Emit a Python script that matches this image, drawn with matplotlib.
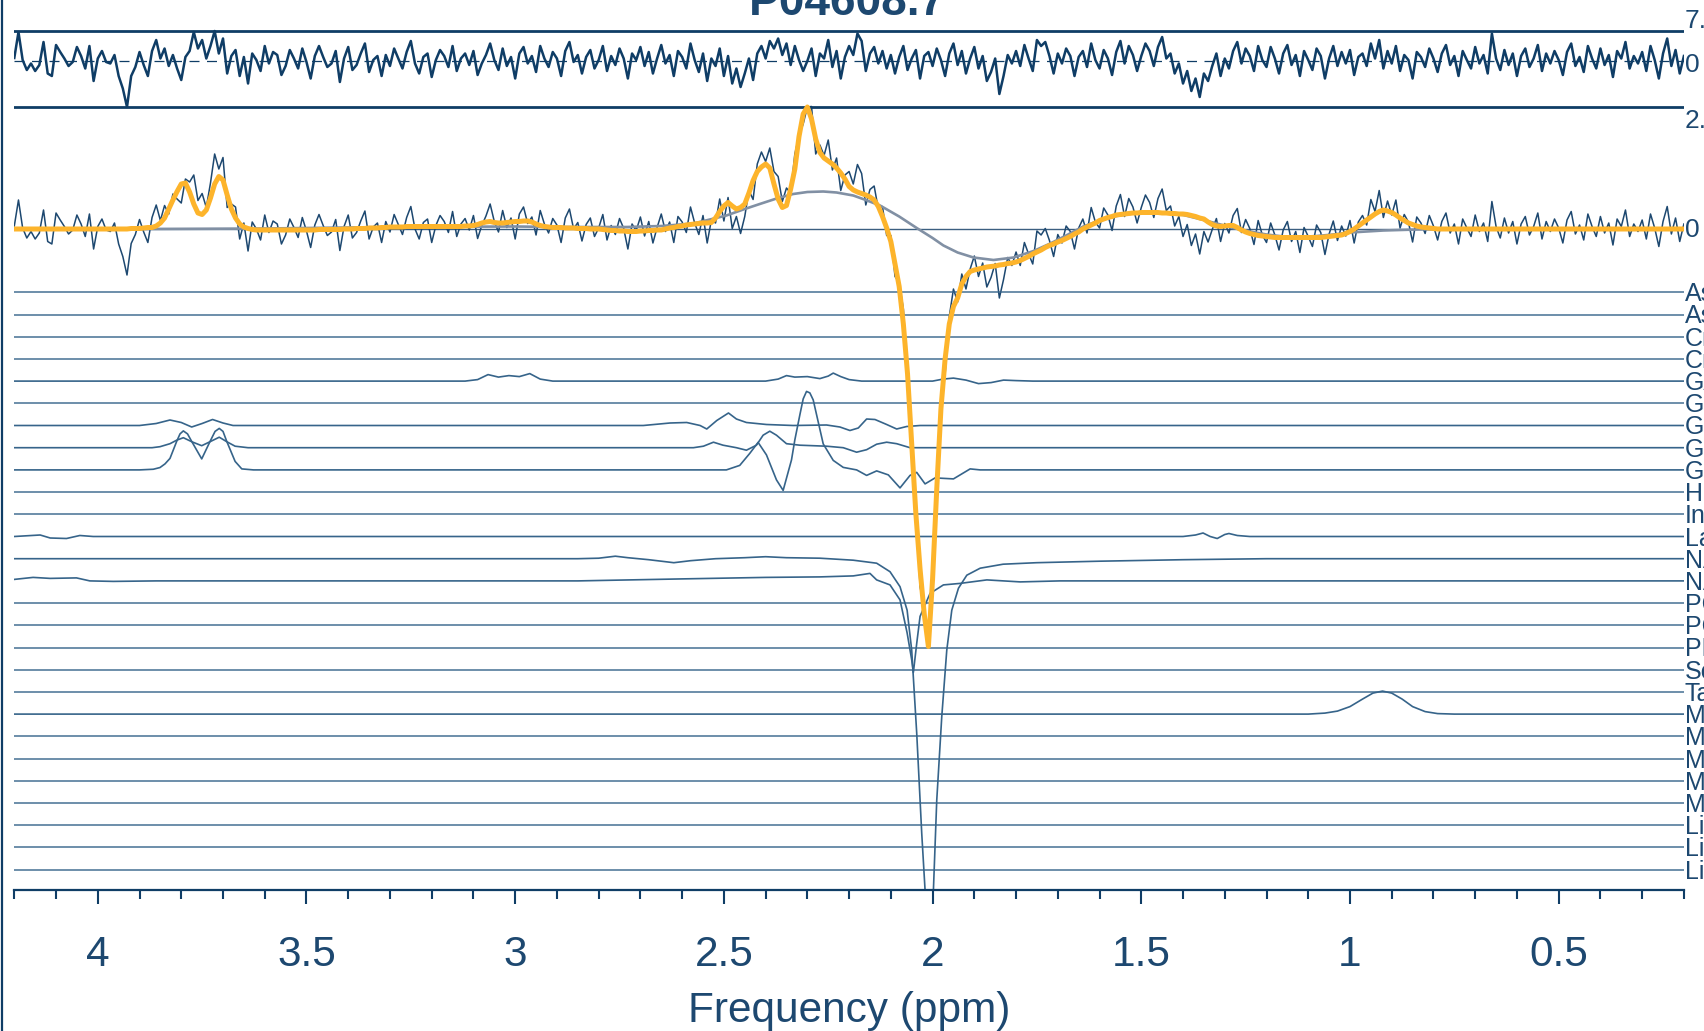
import numpy as np
import matplotlib
matplotlib.use("Agg")
import matplotlib.pyplot as plt
from matplotlib.lines import Line2D
from matplotlib.ticker import FixedLocator, FuncFormatter

plt.rcParams['font.family'] = ['Liberation Sans', 'DejaVu Sans']

# ---------------- data (amplitudes in arbitrary units) ----------------
ppm = np.linspace(4.2, 0.2, 401)   # 0.01 ppm steps

fit = ([0.0] * 28 + [0.01, 0.01,
        0.01, 0.02, 0.03, 0.03, 0.06, 0.12, 0.22, 0.40, 0.58, 0.75,
        0.90, 0.92, 0.74, 0.50, 0.32, 0.29, 0.38, 0.62, 0.90, 1.05,
        0.98, 0.68, 0.40, 0.22, 0.10, 0.04, 0.01, -0.01, -0.02, -0.02]
       + [-0.02] * 13 + [-0.01] * 6 + [0.0,
        0.0, 0.0, 0.01, 0.01, 0.01, 0.02, 0.02, 0.02, 0.03, 0.03,
        0.04, 0.04, 0.04, 0.04, 0.05, 0.05, 0.05, 0.05, 0.05, 0.05,
        0.05, 0.05, 0.05, 0.05, 0.05, 0.05, 0.05, 0.05, 0.06, 0.06,
        0.07, 0.09, 0.12, 0.14, 0.15, 0.13, 0.12, 0.12, 0.13, 0.14,
        0.15, 0.15, 0.16, 0.16, 0.14, 0.10, 0.07, 0.05, 0.04, 0.03,
        0.03, 0.03, 0.02, 0.02, 0.02, 0.01, 0.01, 0.01, 0.0, 0.0,
        0.0, -0.01, -0.02, -0.03, -0.03, -0.04, -0.04, -0.05, -0.05, -0.05,
        -0.04, -0.04, -0.03, -0.03, -0.02, -0.02, 0.0, 0.02, 0.03, 0.05,
        0.06, 0.08, 0.09, 0.10, 0.11, 0.12, 0.12, 0.13, 0.22, 0.35,
        0.46, 0.53, 0.46, 0.40, 0.43, 0.50, 0.72, 0.97, 1.15, 1.24,
        1.30, 1.22, 0.90, 0.60, 0.43, 0.47, 0.80, 1.20, 1.85, 2.30,
        2.44, 2.20, 1.80, 1.53, 1.42, 1.36, 1.30, 1.22, 1.12, 1.00,
        0.85, 0.78, 0.74, 0.71, 0.68, 0.64, 0.58, 0.45, 0.25, 0.02,
        -0.25, -0.70, -1.15, -1.90, -2.90, -4.30, -5.70, -6.80, -7.70, -8.35,
        -7.00, -5.20, -3.60, -2.60, -1.90, -1.55, -1.38, -1.10, -0.95, -0.85,
        -0.82, -0.80, -0.78, -0.76, -0.75, -0.74, -0.72, -0.71, -0.69, -0.68,
        -0.66, -0.63, -0.59, -0.55, -0.50, -0.46, -0.42, -0.37, -0.33, -0.30,
        -0.26, -0.23, -0.19, -0.15, -0.10, -0.06, 0.00, 0.04, 0.08, 0.12,
        0.17, 0.20, 0.23, 0.25, 0.28, 0.29, 0.30, 0.31, 0.32, 0.32,
        0.33, 0.33, 0.33, 0.33, 0.33, 0.32, 0.32, 0.31, 0.31, 0.30,
        0.30, 0.29, 0.27, 0.25, 0.22, 0.20, 0.14, 0.09, 0.06, 0.05,
        0.06, 0.07, 0.07, 0.03, -0.02, -0.06, -0.09, -0.11, -0.13, -0.14,
        -0.15, -0.16, -0.17, -0.17, -0.17, -0.17, -0.17, -0.17, -0.17, -0.17,
        -0.17, -0.17, -0.17, -0.17, -0.16, -0.15, -0.14, -0.13, -0.12, -0.09,
        -0.05, 0.0, 0.06, 0.12, 0.18, 0.24, 0.30, 0.35, 0.38, 0.36,
        0.33, 0.28, 0.22, 0.17, 0.12, 0.09, 0.06, 0.04, 0.03, 0.02,
        0.01] + [0.0] * 60)

residual = [
    0.06, 0.58, 0.02, -0.18, -0.05, -0.20, -0.08, 0.38, -0.25, -0.30,
    0.32, 0.18, 0.05, -0.10, -0.02, 0.28, 0.10, -0.15, 0.30, -0.40,
    0.05, 0.20, -0.02, -0.05, 0.12, -0.30, -0.55, -0.92, -0.30, -0.12,
    0.18, -0.08, -0.30, 0.20, 0.42, 0.05, 0.25, -0.10, 0.12, -0.15,
    -0.38, 0.08, 0.20, 0.58, 0.25, 0.42, 0.05, 0.30, 0.60, 0.15,
    0.45, -0.25, 0.10, 0.22, -0.30, 0.08, -0.45, 0.15, 0.02, -0.20,
    0.30, -0.05, 0.18, 0.12, -0.28, -0.10, 0.22, 0.05, -0.15, 0.25,
    -0.02, -0.35, 0.10, 0.30, 0.08, -0.12, -0.05, 0.20, -0.42, 0.05,
    0.28, -0.18, -0.08, 0.15, 0.35, -0.22, 0.02, 0.10, -0.30, 0.12,
    -0.10, 0.25, 0.05, -0.15, 0.18, 0.40, -0.05, -0.25, 0.08, 0.15,
    -0.32, 0.02, 0.22, 0.10, -0.12, 0.30, -0.20, 0.05, 0.15, -0.08,
    0.20, -0.28, -0.05, 0.12, 0.35, 0.02, -0.18, 0.25, -0.10, 0.08,
    -0.35, 0.15, 0.28, -0.05, 0.10, -0.22, 0.30, 0.05, -0.12, 0.18,
    0.05, -0.30, 0.20, 0.38, -0.02, 0.12, -0.25, 0.08, 0.22, -0.15,
    0.02, 0.30, -0.20, 0.10, -0.08, 0.25, 0.05, -0.35, 0.15, 0.02,
    0.28, -0.10, 0.18, -0.25, 0.05, 0.32, -0.05, 0.12, -0.30, 0.20,
    0.08, -0.15, 0.35, 0.02, -0.22, 0.15, -0.40, 0.05, -0.10, 0.25,
    -0.30, 0.10, -0.45, -0.15, -0.52, -0.25, 0.05, -0.38, 0.15, 0.30,
    0.05, 0.40, 0.25, 0.45, 0.12, 0.35, -0.08, 0.30, 0.02, -0.20,
    0.0, 0.25, -0.30, 0.15, 0.05, 0.42, -0.12, 0.20, -0.35, 0.08,
    0.30, 0.12, 0.55, 0.40, -0.20, 0.15, 0.28, -0.05, 0.20, -0.15,
    0.12, -0.25, 0.08, 0.30, -0.18, 0.05, 0.22, -0.35, 0.10, 0.18,
    -0.10, 0.25, 0.02, -0.30, 0.15, 0.35, -0.08, 0.20, -0.25, 0.05,
    0.28, -0.15, 0.10, -0.40, -0.22, 0.05, -0.66, -0.30, 0.12, -0.05,
    0.20, -0.10, 0.32, 0.05, -0.20, 0.42, 0.30, 0.38, 0.10, -0.25,
    0.15, -0.05, 0.25, 0.10, -0.30, 0.08, 0.20, -0.12, 0.35, 0.02,
    -0.15, 0.22, 0.05, -0.28, 0.18, 0.40, -0.05, 0.30, 0.12, -0.20,
    0.10, 0.35, 0.20, -0.10, 0.28, 0.48, 0.05, 0.15, -0.25, -0.05,
    -0.45, -0.20, -0.60, -0.35, -0.72, -0.25, -0.40, -0.10, 0.15, -0.30,
    0.05, -0.15, 0.20, 0.38, -0.05, 0.25, 0.10, -0.20, 0.30, 0.02,
    -0.12, 0.28, 0.05, -0.25, 0.15, 0.32, -0.08, 0.12, -0.30, 0.20,
    0.02, -0.18, 0.25, 0.10, -0.35, 0.05, 0.30, -0.10, 0.18, -0.05,
    0.22, -0.28, 0.08, 0.15, -0.10, 0.35, 0.05, 0.42, -0.15, 0.20,
    -0.05, 0.30, -0.20, 0.12, 0.02, -0.35, 0.18, 0.08, -0.12, 0.25,
    0.05, -0.22, 0.15, 0.32, -0.08, 0.10, -0.30, 0.20, 0.02, -0.15,
    0.28, -0.05, 0.12, -0.25, 0.55, 0.05, -0.18, 0.22, -0.08, 0.15,
    -0.30, 0.10, 0.25, -0.12, 0.05, 0.32, -0.20, 0.15, -0.05, 0.20,
    0.02, -0.28, 0.18, 0.35, -0.10, 0.08, -0.22, 0.30, 0.05, -0.15,
    0.25, -0.08, 0.12, -0.32, 0.20, 0.05, 0.38, -0.15, 0.10, -0.05,
    0.18, -0.20, 0.30, 0.02, -0.35, 0.15, 0.45, -0.10, 0.22, -0.25,
    0.10]

baseline_ppm = [4.2, 3.9, 3.6, 3.3, 3.0, 2.893, 2.733, 2.65, 2.573, 2.494, 2.45, 2.414,
                2.37, 2.334, 2.30, 2.262, 2.23, 2.19, 2.16, 2.126, 2.08, 2.038, 2.0,
                1.974, 1.94, 1.902, 1.854, 1.806, 1.758, 1.718, 1.68, 1.639, 1.60,
                1.559, 1.52, 1.479, 1.44, 1.399, 1.36, 1.319, 1.28, 1.239, 1.20,
                1.159, 1.12, 1.08, 1.04, 1.0, 0.96, 0.92, 0.88, 0.84, 0.76, 0.2]
baseline_amp = [-0.01, 0.0, 0.01, 0.04, 0.05, 0.04, 0.04, 0.06, 0.11, 0.27, 0.40, 0.50,
                0.62, 0.70, 0.74, 0.75, 0.73, 0.67, 0.58, 0.47, 0.25, 0.02, -0.18,
                -0.33, -0.47, -0.57, -0.62, -0.57, -0.44, -0.29, -0.13, 0.05, 0.17,
                0.26, 0.31, 0.33, 0.32, 0.28, 0.20, 0.11, 0.02, -0.05, -0.11,
                -0.15, -0.16, -0.14, -0.11, -0.07, -0.05, -0.03, -0.02, -0.01, 0.0, 0.0]

names = ["Asc", "Asp", "Cr", "CrCH2", "GABA", "GPC", "GSH", "Gln", "Glu", "H2O",
         "Ins", "Lac", "NAA", "NAAG", "PCh", "PCr", "PE", "Scyllo", "Tau",
         "MM09", "MM12", "MM14", "MM17", "MM20", "Lip09", "Lip13", "Lip20"]

gaba_ppm = [4.2, 3.12, 3.09, 3.065, 3.04, 3.015, 2.99, 2.965, 2.94, 2.91,
            2.40, 2.37, 2.35, 2.33, 2.30, 2.285, 2.27, 2.25, 2.238, 2.22,
            2.20, 2.17, 2.0, 1.975, 1.95, 1.92, 1.89, 1.86, 1.83, 1.80, 1.76, 0.2]
gaba_amp = [0, 0, 0.03, 0.13, 0.08, 0.11, 0.09, 0.15, 0.04, 0,
            0, 0.04, 0.11, 0.08, 0.09, 0.07, 0.05, 0.10, 0.16, 0.09,
            0.03, 0, 0, 0.04, 0.06, 0.02, -0.05, -0.03, 0.02, 0.01, 0, 0]

gsh_ppm = [4.2, 3.90, 3.86, 3.827, 3.80, 3.775, 3.75, 3.725, 3.70, 3.676,
           3.60, 2.693, 2.629, 2.589, 2.557, 2.541, 2.517, 2.489, 2.470, 2.446,
           2.398, 2.334, 2.254, 2.222, 2.198, 2.178, 2.158, 2.138, 2.110, 2.086,
           2.062, 2.030, 0.2]
gsh_amp = [0, 0, 0.04, 0.11, 0.06, -0.03, 0.04, 0.12, 0.05, 0,
           0, 0, 0.05, 0.06, 0.0, -0.07, 0.10, 0.25, 0.13, 0.06,
           0.02, 0.0, 0.01, -0.03, -0.10, -0.05, 0.13, 0.12, 0.02, -0.07,
           -0.02, 0, 0]

gln_ppm = [4.2, 3.87, 3.851, 3.827, 3.811, 3.795, 3.775, 3.751, 3.731, 3.709,
           3.691, 3.671, 3.64, 2.573, 2.549, 2.525, 2.502, 2.470, 2.446, 2.422,
           2.406, 2.390, 2.374, 2.350, 2.318, 2.254, 2.214, 2.182, 2.158, 2.134,
           2.110, 2.086, 2.054, 0.2]
gln_amp = [0, 0, 0.02, 0.08, 0.15, 0.20, 0.12, 0.04, 0.12, 0.21,
           0.12, 0.03, 0, 0, 0.03, 0.11, 0.05, 0.0, -0.05, 0.05,
           0.25, 0.33, 0.25, 0.08, 0.05, 0.03, 0.0, -0.09, -0.04, 0.07,
           0.11, 0.08, 0, 0]

glu_ppm = [4.2, 3.90, 3.867, 3.851, 3.839, 3.827, 3.811, 3.803, 3.795, 3.785,
           3.775, 3.751, 3.731, 3.719, 3.709, 3.700, 3.691, 3.671, 3.655, 3.627,
           2.494, 2.462, 2.438, 2.418, 2.398, 2.374, 2.358, 2.338, 2.330, 2.318,
           2.310, 2.302, 2.294, 2.286, 2.262, 2.238, 2.214, 2.182, 2.158, 2.134,
           2.106, 2.078, 2.054, 2.038, 2.018, 1.994, 1.950, 1.910, 1.886, 0.2]
glu_amp = [0, 0, 0.013, 0.047, 0.12, 0.23, 0.57, 0.72, 0.78, 0.72,
           0.57, 0.22, 0.57, 0.77, 0.83, 0.77, 0.57, 0.17, 0.02, 0,
           0, 0.09, 0.33, 0.55, 0.30, -0.20, -0.41, 0.20, 0.60, 1.10,
           1.42, 1.57, 1.54, 1.40, 0.52, 0.19, 0.05, 0.0, -0.11, -0.02,
           -0.10, -0.36, -0.11, -0.05, -0.28, -0.16, -0.18, 0.02, 0, 0]

lac_ppm = [4.2, 4.138, 4.114, 4.075, 4.043, 4.011, 3.86, 1.40, 1.37, 1.352,
           1.335, 1.318, 1.30, 1.29, 1.27, 1.24, 0.2]
lac_amp = [0.0, 0.03, -0.03, -0.04, 0.02, 0.0, 0.0, 0, 0.03, 0.07,
           0.0, -0.04, 0.04, 0.06, 0.02, 0.0, 0]

naa_ppm = [4.2, 2.85, 2.80, 2.76, 2.73, 2.68, 2.62, 2.58, 2.52, 2.45,
           2.40, 2.35, 2.27, 2.19, 2.134, 2.102, 2.078, 2.061, 2.050, 2.038,
           2.026, 2.018, 2.008, 1.998, 1.990, 1.978, 1.966, 1.954, 1.938, 1.918,
           1.886, 1.831, 1.751, 1.60, 1.40, 1.20, 0.2]
naa_amp = [0, 0, 0.01, 0.05, 0.02, -0.02, -0.08, -0.04, 0.0, 0.02,
           0.04, 0.02, 0.01, -0.03, -0.09, -0.26, -0.56, -1.03, -1.83, -3.49,
           -5.49, -6.63, -8.0, -6.63, -4.83, -3.16, -1.83, -1.03, -0.59, -0.33,
           -0.19, -0.11, -0.08, -0.05, -0.02, 0, 0]

naag_ppm = [4.2, 4.155, 4.114, 4.051, 4.019, 3.963, 3.86, 2.85, 2.60, 2.40,
            2.27, 2.19, 2.15, 2.134, 2.102, 2.078, 2.061, 2.050, 2.046, 2.038,
            2.030, 2.006, 1.974, 1.934, 1.87, 1.79, 1.695, 0.2]
naag_amp = [0.03, 0.07, 0.05, 0.06, 0.0, -0.01, 0.0, 0.0, 0.04, 0.07,
            0.08, 0.10, 0.15, 0.02, -0.08, -0.38, -1.04, -1.58, -1.83, -1.25,
            -0.71, -0.25, -0.08, -0.05, 0.02, -0.02, 0.0, 0]

mm09_ppm = [4.2, 1.10, 1.06, 1.03, 1.00, 0.97, 0.945, 0.922, 0.90, 0.875,
            0.85, 0.82, 0.79, 0.75, 0.2]
mm09_amp = [0, 0, 0.02, 0.06, 0.15, 0.30, 0.42, 0.46, 0.42, 0.30,
            0.15, 0.05, 0.01, 0, 0]

traces = {"GABA": (gaba_ppm, gaba_amp), "GSH": (gsh_ppm, gsh_amp),
          "Gln": (gln_ppm, gln_amp), "Glu": (glu_ppm, glu_amp),
          "Lac": (lac_ppm, lac_amp), "NAA": (naa_ppm, naa_amp),
          "NAAG": (naag_ppm, naag_amp), "MM09": (mm09_ppm, mm09_amp)}

# ---------------- layout (figure pixels) ----------------
W, H = 1704, 1031
ZERO_PX = 229.0      # main spectrum zero line
UNIT_PX = 50.0       # pixels per amplitude unit
AX_BOTTOM_PX = 890.0


def ypx(p):
    return (ZERO_PX - p) / UNIT_PX


def xppm(p):
    return 4.0 - (p - 97.8) / 417.4


navy = '#0f3d66'
blue = '#1d4870'
metab_c = '#36648a'
yellow = '#fdb42b'
grey = '#8190a4'

fig = plt.figure(figsize=(W / 100, H / 100), dpi=100)
ax = fig.add_axes([14.3 / W, 1 - AX_BOTTOM_PX / H, (1683.9 - 14.3) / W, AX_BOTTOM_PX / H])
ax.set_xlim(4.2, 0.2)
ax.set_ylim(ypx(AX_BOTTOM_PX), ypx(0))

fit = np.array(fit)
residual = np.array(residual)
data = fit + residual

# main spectrum
ax.axhline(0, color='#3c5f80', lw=1.0, zorder=1)
ax.plot(ppm, data, color=blue, lw=1.1, zorder=2)
ax.plot(baseline_ppm, baseline_amp, color=grey, lw=1.9, zorder=3)
ax.plot(ppm, fit, color=yellow, lw=3.6, zorder=4, solid_joinstyle='round')

# residual
res_off = ypx(61)
ax.axhline(res_off, color=navy, lw=0.9, ls=(0, (8, 6)), zorder=1)
ax.axhline(res_off + residual.max(), color=navy, lw=2.0)
ax.axhline(res_off + residual.min(), color=navy, lw=2.0)
ax.plot(ppm, res_off + residual, color=navy, lw=1.8)

# metabolite components
for k, name in enumerate(names):
    off = ypx(292.3 + 22.2 * k)
    if name in traces:
        tp, ta = traces[name]
        ax.plot(tp, off + np.array(ta), color=metab_c, lw=1.2)
    else:
        ax.axhline(off, color=metab_c, lw=1.2, alpha=0.85)
    ax.text(xppm(1685), off - 9.0 / UNIT_PX, name, color=blue, fontsize=18,
            ha='left', va='baseline', clip_on=False)

# value labels on the right
lab_x = xppm(1685)
for txt, base in [("7.1", 28), ("0", 72), ("2.4", 128), ("0", 237)]:
    ax.text(lab_x, ypx(base), txt, color=blue, fontsize=19, ha='left',
            va='baseline', clip_on=False)

# axes styling
for s in ['top', 'left', 'right']:
    ax.spines[s].set_visible(False)
ax.spines['bottom'].set_color(navy)
ax.spines['bottom'].set_linewidth(1.6)
ax.set_yticks([])
ax.xaxis.set_major_locator(FixedLocator([4, 3.5, 3, 2.5, 2, 1.5, 1, 0.5]))
ax.xaxis.set_minor_locator(FixedLocator(np.arange(2, 43) / 10))
ax.xaxis.set_major_formatter(FuncFormatter(lambda v, p: '%g' % v))
ax.tick_params(axis='x', which='major', length=10, width=1.5, color=navy,
               labelsize=30.5, labelcolor=blue, pad=22.5, direction='out')
ax.tick_params(axis='x', which='minor', length=6.3, width=1.5, color=navy,
               direction='out')
ax.set_xlabel('Frequency (ppm)', fontsize=30.5, color=blue, labelpad=11.5)

fig.text(847.5 / W, 1 - 15 / H, 'P04608.7', ha='center', va='baseline',
         fontsize=33, fontweight='bold', color=blue)
fig.add_artist(Line2D([1.5 / W, 1.5 / W], [0, 1], transform=fig.transFigure,
                      color=navy, lw=1.6))

fig.savefig('out.png', dpi=100)
